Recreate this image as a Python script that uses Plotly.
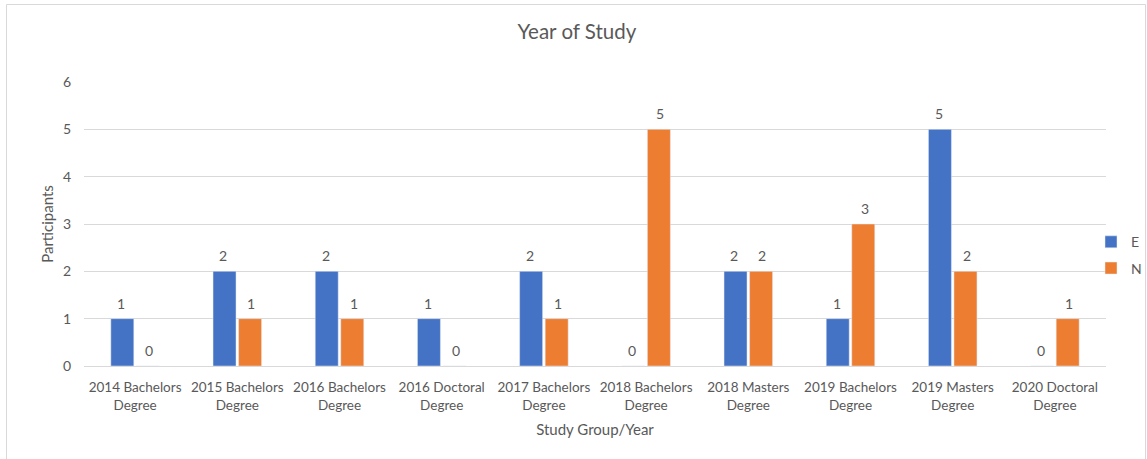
import plotly.graph_objects as go

categories = [
    "2014 Bachelors<br>Degree", "2015 Bachelors<br>Degree", "2016 Bachelors<br>Degree",
    "2016 Doctoral<br>Degree", "2017 Bachelors<br>Degree", "2018 Bachelors<br>Degree",
    "2018 Masters<br>Degree", "2019 Bachelors<br>Degree", "2019 Masters<br>Degree",
    "2020 Doctoral<br>Degree",
]
e_values = [1, 2, 2, 1, 2, 0, 2, 1, 5, 0]
n_values = [0, 1, 1, 0, 1, 5, 2, 3, 2, 1]

FONT = "Lato, 'Open Sans', sans-serif"
GREY = "#595959"

fig = go.Figure()
fig.add_trace(go.Bar(name="E", x=categories, y=e_values, marker_color="#4472C4", legendgroup="e"))
fig.add_trace(go.Bar(name="N", x=categories, y=n_values, marker_color="#ED7D31", legendgroup="n"))

# value labels above each bar of the group (E left, N right)
annotations = []
for cat, ev, nv in zip(categories, e_values, n_values):
    for val, shift in ((ev, -14), (nv, 14)):
        annotations.append(dict(
            x=cat, y=val, xref="x", yref="y", text=str(val), showarrow=False,
            xshift=shift, yanchor="bottom", yshift=5,
            font=dict(size=14, color=GREY, family=FONT),
        ))

fig.update_layout(
    width=1147, height=459,
    margin=dict(l=84, r=41, t=82, b=93, autoexpand=False),
    paper_bgcolor="white", plot_bgcolor="white",
    font=dict(family=FONT, color=GREY, size=14),
    title=dict(text="Year of Study", x=0.503, xref="container", xanchor="center",
               y=1 - 32 / 459, yanchor="middle",
               font=dict(size=20.5, color=GREY, family=FONT)),
    barmode="group", bargap=0.5, bargroupgap=0.1,
    showlegend=True,
    legend=dict(x=(1091 - 84) / 1022, xanchor="left", y=0.39, yanchor="middle",
                font=dict(size=14, color=GREY, family=FONT),
                itemwidth=30, tracegroupgap=5, bgcolor="rgba(0,0,0,0)"),
    xaxis=dict(
        title=dict(text="Study Group/Year", font=dict(size=15, color=GREY, family=FONT), standoff=12),
        tickfont=dict(size=13.5, color=GREY, family=FONT),
        showline=True, linecolor="#d9d9d9", linewidth=1, ticks="",
        ticklabelstandoff=9,
    ),
    yaxis=dict(
        title=dict(text="Participants", font=dict(size=15, color=GREY, family=FONT), standoff=5),
        range=[0, 6], dtick=1, tickfont=dict(size=14, color=GREY, family=FONT),
        gridcolor="#d9d9d9", gridwidth=1, zeroline=False, ticks="", ticklen=0,
        ticklabelstandoff=12,
    ),
    annotations=annotations,
    shapes=[dict(
        type="rect", xref="paper", yref="paper",
        x0=(6.5 - 84) / 1022, x1=(1145.5 - 84) / 1022,
        y0=(366 - 470) / 284, y1=(366 - 4.5) / 284,
        line=dict(color="#d9d9d9", width=1), fillcolor="rgba(0,0,0,0)", layer="below",
    )],
)

fig.write_html("out.html")
